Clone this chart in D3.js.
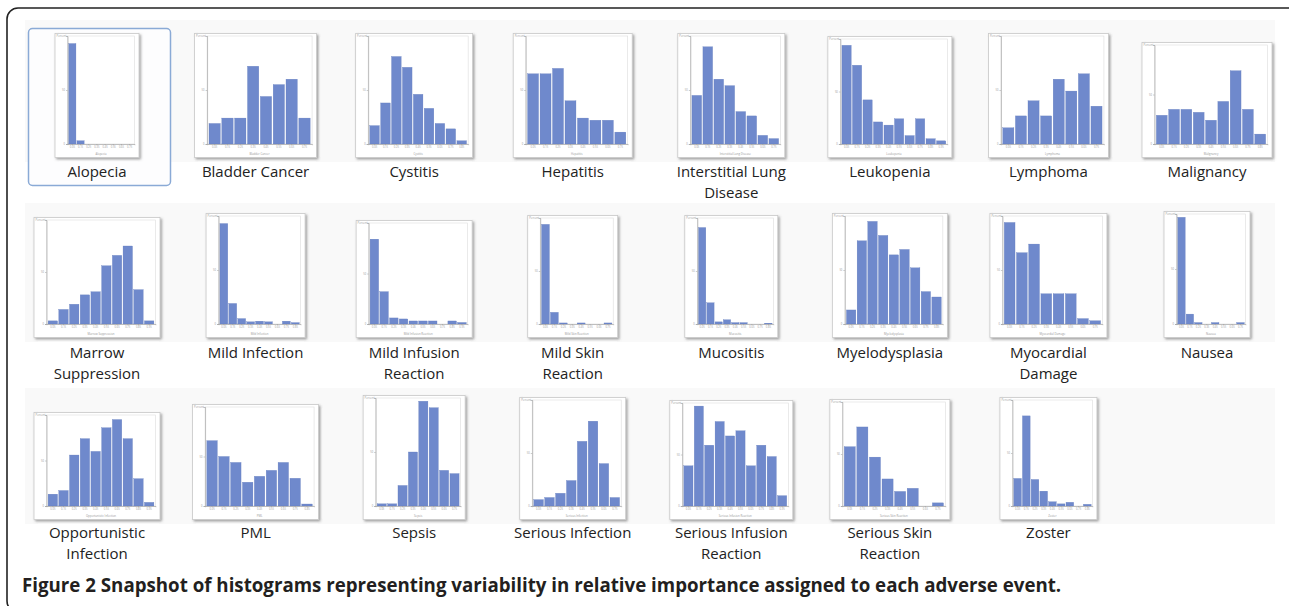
<!DOCTYPE html>
<html><head><meta charset="utf-8">
<script src="https://cdn.jsdelivr.net/npm/d3@7"></script>
<style>
html,body{margin:0;padding:0;background:#fff;}
svg{display:block;}
</style></head><body>
<svg id="chart" width="1289" height="606"></svg>
<script>
// ---------- data ----------
const events = ["Alopecia","Bladder Cancer","Cystitis","Hepatitis","Interstitial Lung Disease","Leukopenia","Lymphoma","Malignancy",
  "Marrow Suppression","Mild Infection","Mild Infusion Reaction","Mild Skin Reaction","Mucositis","Myelodysplasia","Myocardial Damage","Nausea",
  "Opportunistic Infection","PML","Sepsis","Serious Infection","Serious Infusion Reaction","Serious Skin Reaction","Zoster"];
const labelLines = [["Alopecia"],["Bladder Cancer"],["Cystitis"],["Hepatitis"],["Interstitial Lung","Disease"],["Leukopenia"],["Lymphoma"],["Malignancy"],
  ["Marrow","Suppression"],["Mild Infection"],["Mild Infusion","Reaction"],["Mild Skin","Reaction"],["Mucositis"],["Myelodysplasia"],["Myocardial","Damage"],["Nausea"],
  ["Opportunistic","Infection"],["PML"],["Sepsis"],["Serious Infection"],["Serious Infusion","Reaction"],["Serious Skin","Reaction"],["Zoster"]];

const alopecia = [93, 3, 0, 0, 0, 0, 0, 0];
const bladderCancer = [19, 24, 24, 72, 44, 55, 60, 24];
const cystitis = [17, 38, 81, 71, 46, 33, 19, 14, 3];
const hepatitis = [65, 65, 70, 40, 24, 22, 22, 11];
const interstitialLungDisease = [45, 90, 60, 54, 30, 26, 8, 5];
const leukopenia = [94, 75, 42, 21, 18, 24, 8, 24, 5, 3];
const lymphoma = [15, 26, 40, 26, 60, 49, 65, 35];
const malignancy = [29, 35, 35, 32, 24, 43, 74, 35, 10];
const marrowSuppression = [3, 14, 19, 28, 31, 56, 66, 75, 33, 3];
const mildInfection = [93, 19, 5, 2, 2.6, 2, 0, 2.6, 1.3];
const mildInfusionReaction = [84, 32, 6, 5, 3, 3, 3, 0, 3, 1.5];
const mildSkinReaction = [94, 11, 1, 0, 1, 0, 0, 1];
const mucositis = [91, 20, 2, 4, 1.3, 1.3, 0, 0, 0.8];
const myelodysplasia = [13, 77, 95, 82, 64, 69, 52, 30, 25];
const myocardialDamage = [94, 66, 74, 28, 28, 28, 5, 3];
const nausea = [97, 9, 1.3, 0, 1.3, 0, 0, 1.3];
const opportunisticInfection = [13, 17, 56, 74, 60, 86, 95, 74, 30, 4];
const pml = [66, 50, 44, 24, 30, 36, 44, 28, 2];
const sepsis = [2, 2, 19, 50, 97, 91, 33, 30];
const seriousInfection = [6, 8, 12, 24, 61, 80, 40, 8];
const seriousInfusionReaction = [39, 97, 59, 82, 68, 73, 39, 59, 48, 10];
const seriousSkinReaction = [57, 76, 47, 26, 14, 17, 0, 3];
const zoster = [26, 85, 25, 14, 4, 2, 3.5, 0, 1.6];

const series = [alopecia, bladderCancer, cystitis, hepatitis, interstitialLungDisease, leukopenia, lymphoma, malignancy,
  marrowSuppression, mildInfection, mildInfusionReaction, mildSkinReaction, mucositis, myelodysplasia, myocardialDamage, nausea,
  opportunisticInfection, pml, sepsis, seriousInfection, seriousInfusionReaction, seriousSkinReaction, zoster];

const binLabels = ["0.05","0.15","0.25","0.35","0.45","0.55","0.65","0.75","0.85","0.95"];
const yTitle = "Percent";
const captionBold = "Figure 2";
const captionText = " Snapshot of histograms representing variability in relative importance assigned to each adverse event.";

// ---------- layout ----------
const thumbW = [85,123,118,120,108,125,121,131, 127,100,117,91,94,116,118,87, 127,127,103,107,124,121,98];
const thumbH = [125,125,125,125,125,122,125,116, 121,125,118,123,123,125,125,127, 108,116,125,123,120,121,123];

const svg = d3.select("#chart");
const defs = svg.append("defs");
const f = defs.append("filter").attr("id","sh").attr("x","-10%").attr("y","-10%").attr("width","130%").attr("height","130%");
f.append("feDropShadow").attr("dx",1.5).attr("dy",1.5).attr("stdDeviation",1).attr("flood-color","#555").attr("flood-opacity",0.55);

// outer frame
svg.append("rect").attr("x",7).attr("y",8).attr("width",1292).attr("height",604).attr("rx",11)
  .attr("fill","none").attr("stroke","#222").attr("stroke-width",1.6);

// row bands
const rowBand = [[20,162],[203,342],[388,524]];
rowBand.forEach(([a,b]) => svg.append("rect").attr("x",25).attr("y",a).attr("width",1250).attr("height",b-a).attr("fill","#f9f9f9"));

// selected item
svg.append("rect").attr("x",28.5).attr("y",28.5).attr("width",142).attr("height",157).attr("rx",4)
  .attr("fill","#fdfdfe").attr("stroke","#8aaad6").attr("stroke-width",1.5);

const colX = d3.scalePoint().domain(d3.range(8)).range([97,1207]);
const rowBottom = [158,338,520];
const labelY = [177,358,538];
const barColor = "#6f89cc";

series.forEach((vals, i) => {
  const col = i % 8, row = Math.floor(i / 8);
  const cx = colX(col), w = thumbW[i], h = thumbH[i];
  const x0 = cx - w/2, y0 = rowBottom[row] - h;
  const g = svg.append("g").attr("transform", `translate(${x0},${y0})`);
  g.append("rect").attr("x",0.5).attr("y",0.5).attr("width",w-1).attr("height",h-1)
    .attr("fill","#fff").attr("stroke","#c9c9c9").attr("stroke-width",0.8).attr("filter","url(#sh)");
  const pl = 13, pr = w - 5, pt = 3, pb = h - 14;
  g.append("rect").attr("x",pl).attr("y",pt).attr("width",pr-pl).attr("height",pb-pt)
    .attr("fill","none").attr("stroke","#dcdcdc").attr("stroke-width",0.6);
  const x = d3.scaleBand().domain(d3.range(vals.length)).range([pl,pr]).paddingInner(0.12).paddingOuter(0.15);
  const y = d3.scaleLinear().domain([0,100]).range([pb,pt]);
  g.selectAll("rect.bar").data(vals).join("rect").attr("class","bar")
    .attr("x",(d,k)=>x(k)).attr("width",x.bandwidth())
    .attr("y",d=>y(d)).attr("height",d=>pb-y(d))
    .attr("fill",barColor).attr("stroke","#5f78bb").attr("stroke-width",0.3);
  const ya = g.append("g").attr("transform",`translate(${pl},0)`)
    .call(d3.axisLeft(y).tickValues(y.ticks(3).filter(t => t < 100)).tickSize(1.5).tickPadding(1));
  const xa = g.append("g").attr("transform",`translate(0,${pb})`)
    .call(d3.axisBottom(x).tickSize(1.2).tickPadding(1).tickFormat(k=>binLabels[k]));
  [ya, xa].forEach(a => {
    a.selectAll("path").attr("stroke","#999").attr("stroke-width",0.6);
    a.selectAll("line").attr("stroke","#999").attr("stroke-width",0.5);
    a.selectAll("text").attr("font-size",2.6).attr("fill","#9a9a9a").attr("font-family","Open Sans");
  });
  g.append("text").attr("x",(pl+pr)/2).attr("y",h-3).attr("text-anchor","middle")
    .attr("font-size",2.8).attr("fill","#999").attr("font-family","Open Sans").text(events[i]);
  g.append("text").attr("x",pl-1).attr("y",pt+1).attr("text-anchor","end")
    .attr("font-size",2.8).attr("fill","#999").attr("font-family","Open Sans").text(yTitle);

  labelLines[i].forEach((ln, k) => {
    svg.append("text").attr("x",cx).attr("y",labelY[row] + k*20.5).attr("text-anchor","middle")
      .attr("font-family","Open Sans").attr("font-size",15).attr("fill","#222").text(ln);
  });
});

// caption
const cap = svg.append("text").attr("x",22).attr("y",592).attr("font-family","Open Sans")
  .attr("font-weight","bold").attr("font-size",17).attr("fill","#231f20");
cap.append("tspan").text(captionBold);
cap.append("tspan").text(captionText);
const len = cap.node().getComputedTextLength();
cap.attr("font-size", 17 * 1040 / len);
</script>
</body></html>
